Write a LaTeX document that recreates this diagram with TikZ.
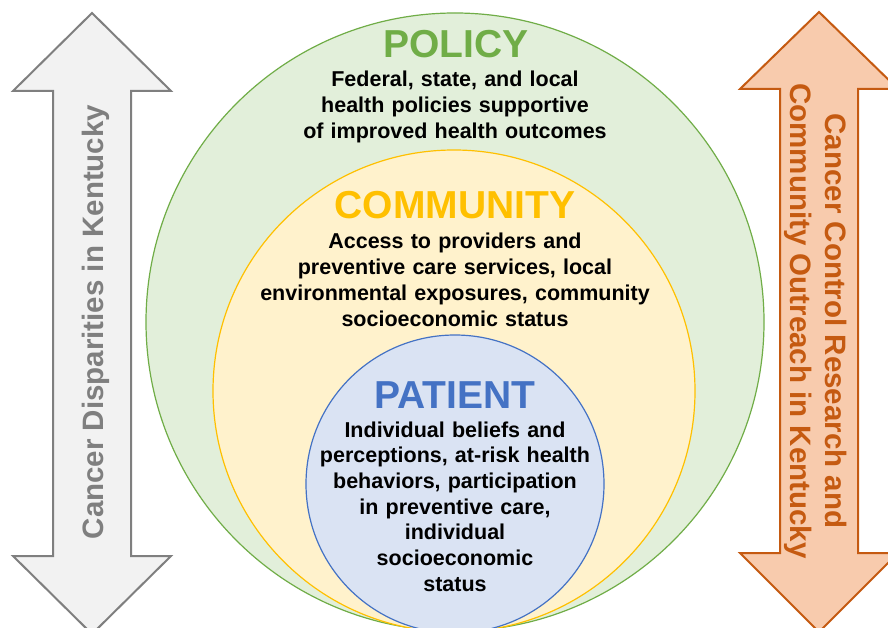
\documentclass[tikz,border=0pt]{standalone}
\usepackage{fontspec}
\setmainfont{Liberation Sans}
\definecolor{polfill}{HTML}{E2EFDA}
\definecolor{poldraw}{HTML}{70AD47}
\definecolor{comfill}{HTML}{FFF2CC}
\definecolor{comdraw}{HTML}{FFC000}
\definecolor{patfill}{HTML}{DAE3F3}
\definecolor{patdraw}{HTML}{4472C4}
\definecolor{grayfill}{HTML}{F2F2F2}
\definecolor{graydraw}{HTML}{7F7F7F}
\definecolor{orfill}{HTML}{F8CBAD}
\definecolor{ordraw}{HTML}{C55A11}
\tikzset{
  ring/.style={line width=1.2pt},
  bigarrow/.style={line width=2pt, line join=miter},
  title/.style={font=\fontsize{39}{44}\selectfont\bfseries, inner sep=0pt, anchor=base},
  body/.style={font=\fontsize{21.5}{25.7}\selectfont\bfseries, inner sep=0pt, anchor=base, align=center, text=black},
  arrowtext/.style={font=\fontsize{29.5}{35}\selectfont\bfseries, inner sep=0pt, align=center}
}
\begin{document}
\begin{tikzpicture}[x=1pt,y=-1pt]
\useasboundingbox (0,0) rectangle (888,628);
\clip (0,0) rectangle (888,628);
\fill[white] (0,0) rectangle (888,628);
% circles
\draw[ring, fill=polfill, draw=poldraw] (455,322) circle[radius=309];
\draw[ring, fill=comfill, draw=comdraw] (454,391) circle[radius=241];
\draw[ring, fill=patfill, draw=patdraw] (455,484) circle[radius=149];
% left arrow
\draw[bigarrow, fill=grayfill, draw=graydraw]
  (92,13) -- (171,91) -- (131,91) -- (131,556) -- (171,556) -- (92,634)
  -- (13,556) -- (53,556) -- (53,91) -- (13,91) -- cycle;
% right arrow
\draw[bigarrow, fill=orfill, draw=ordraw]
  (819,12) -- (898,89) -- (858,89) -- (858,553) -- (898,553) -- (819,632)
  -- (740,553) -- (780,553) -- (780,89) -- (740,89) -- cycle;
% arrow texts
\node[arrowtext, text=graydraw, rotate=90, anchor=base] (disp) at (103,322) {Cancer Disparities in Kentucky};
\node[arrowtext, text=ordraw, rotate=-90, anchor=center] (outreach) at (815.5,321) {Cancer Control Research and\\Community Outreach in Kentucky};
% titles
\node[title, text=poldraw] (policy) at (456,58) {POLICY};
\node[title, text=comdraw] (community) at (455,219) {COMMUNITY};
\node[title, text=patdraw] (patient) at (455,408) {PATIENT};
% body texts
\node[body, text width=420pt] (poltext) at (455,87) {Federal, state, and local\\health policies supportive\\of improved health outcomes};
\node[body, text width=460pt] (comtext) at (455,249) {Access to providers and\\preventive care services, local\\environmental exposures, community\\socioeconomic status};
\node[body, text width=300pt] (pattext) at (455,437) {Individual beliefs and\\perceptions, at-risk health\\behaviors, participation\\in preventive care,\\individual\\socioeconomic\\status};
\end{tikzpicture}
\end{document}
